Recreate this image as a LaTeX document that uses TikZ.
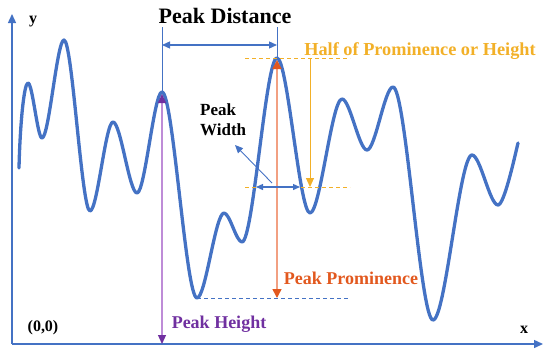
\documentclass[tikz,border=0pt]{standalone}
\usepackage{fontspec}
\setmainfont{Liberation Serif}
\usetikzlibrary{arrows.meta}
\definecolor{cblue}{RGB}{68,114,196}
\definecolor{cgold}{RGB}{242,176,40}
\definecolor{corange}{RGB}{226,88,30}
\definecolor{csalmon}{RGB}{242,160,130}
\definecolor{cpurple}{RGB}{112,48,160}
\definecolor{clpurple}{RGB}{190,140,215}
\tikzset{
  curve/.style={cblue, line width=3.3pt, line cap=round, line join=round},
  axis/.style={cblue, line width=1.4pt, -{Triangle[length=9pt,width=8pt]}},
  thinblue/.style={cblue, line width=1pt},
  dimarrow/.style={cblue, line width=1.3pt, {Triangle[length=8pt,width=7pt]}-{Triangle[length=8pt,width=7pt]}},
  guide/.style={dashed, dash pattern=on 4pt off 3pt, line width=0.9pt},
  lbl/.style={inner sep=0pt, font=\bfseries},
}
\newcommand{\fs}[1]{\fontsize{#1}{#1}\selectfont}
\begin{document}
\begin{tikzpicture}[x=1pt,y=-1pt]
\useasboundingbox (0,0) rectangle (550,360);
% axes
\coordinate (O) at (12,344);
\coordinate (Ytop) at (12,14);
\coordinate (Xend) at (543,344);
\draw[axis] (O) -- (Ytop);
\draw[axis] (O) -- (Xend);
\node[lbl, anchor=base] (ylab) at (33,23) {\fs{16}y};
\node[lbl, anchor=base] (xlab) at (524,333) {\fs{16}x};
\node[lbl, anchor=base] (orig) at (43,331) {\fs{16}(0,0)};
% key points
\coordinate (pk1) at (162,92);
\coordinate (pk2) at (277,58);
\coordinate (tr1) at (197,298);
% signal curve
\draw[curve] (19,168) .. controls (20,125) and (24,83) .. (28,83)
  .. controls (32.5,83) and (37.5,138) .. (42,138)
  .. controls (49,138) and (57,40) .. (64,40)
  .. controls (72.3,40) and (81.7,211) .. (90,211)
  .. controls (97.4,211) and (105.6,122) .. (113,122)
  .. controls (120.7,122) and (129.3,193) .. (137,193)
  .. controls (145,193) and (154,92) .. (162,92)
  .. controls (173.2,92) and (185.8,298) .. (197,298)
  .. controls (205.6,298) and (215.4,213) .. (224,213)
  .. controls (229.8,213) and (236.2,242) .. (242,242)
  .. controls (253.2,242) and (265.8,58) .. (277,58)
  .. controls (287.6,58) and (299.4,213) .. (310,213)
  .. controls (320.2,213) and (331.8,99) .. (342,99)
  .. controls (350,99) and (359,150) .. (367,150)
  .. controls (375.3,150) and (384.7,87) .. (393,87)
  .. controls (405.8,87) and (420.2,320) .. (433,320)
  .. controls (445.5,320) and (459.5,155) .. (472,155)
  .. controls (480.3,155) and (489.7,205) .. (498,205)
  .. controls (504,205) and (514,160) .. (518,143);
% Peak distance
\coordinate (d1top) at (162,27);
\coordinate (d2top) at (277,27);
\coordinate (d1) at (162,45);
\coordinate (d2) at (277,45);
\draw[thinblue] (pk1) -- (d1top);
\draw[thinblue] (pk2) -- (d2top);
\draw[dimarrow] (d1) -- (d2);
\node[lbl, anchor=base] (pdist) at (225,23) {\fs{22}Peak Distance};
% half prominence
\coordinate (hl1) at (245,58);
\coordinate (hr1) at (350,58);
\coordinate (hl2) at (245,187);
\coordinate (hr2) at (350,187);
\draw[guide, cgold] (hl1) -- (hr1);
\draw[guide, cgold] (hl2) -- (hr2);
\coordinate (hv1) at (310,58);
\coordinate (hv2) at (310,187);
\draw[cgold, line width=1pt, -{Triangle[length=9pt,width=8pt]}] (hv1) -- (hv2);
\node[lbl, anchor=base, text=cgold] (half) at (420,55) {\fs{18.3}Half of Prominence or Height};
% prominence
\coordinate (tl) at (197,298);
\coordinate (tr) at (350,298);
\draw[guide, cblue] (tl) -- (tr);
\coordinate (pr1) at (277,60);
\coordinate (pr2) at (277,298);
\draw[csalmon, line width=1.6pt, {Triangle[length=9pt,width=9pt,color=corange]}-{Triangle[length=9pt,width=9pt,color=corange]}] (pr1) -- (pr2);
\node[lbl, anchor=base, text=corange] (prom) at (351,284) {\fs{18}Peak Prominence};
% height
\coordinate (ph1) at (162,94);
\coordinate (ph2) at (162,344);
\draw[clpurple, line width=1.2pt, {Triangle[length=9pt,width=8pt,color=cpurple]}-{Triangle[length=9pt,width=8pt,color=cpurple]}] (ph1) -- (ph2);
\node[lbl, anchor=base, text=cpurple] (height) at (219,328) {\fs{18}Peak Height};
% width
\coordinate (w1) at (256,187);
\coordinate (w2) at (300,187);
\draw[cblue, line width=1.3pt, {Triangle[length=7pt,width=6pt]}-{Triangle[length=7pt,width=6pt]}] (w1) -- (w2);
\coordinate (wa1) at (272,183);
\coordinate (wa2) at (235,145);
\draw[cblue, line width=0.9pt, -{Triangle[length=8pt,width=7pt]}] (wa1) -- (wa2);
\node[lbl, anchor=base west] (pw1) at (200,115) {\fs{17}Peak};
\node[lbl, anchor=base west] (pw2) at (200,135) {\fs{17}Width};
\end{tikzpicture}
\end{document}
